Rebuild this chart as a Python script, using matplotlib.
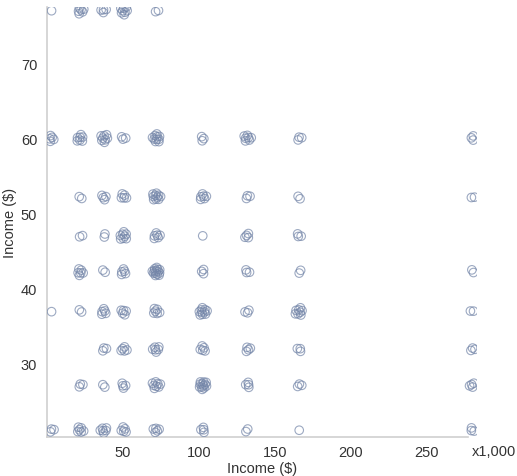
import numpy as np
import matplotlib
matplotlib.use("Agg")
import matplotlib.pyplot as plt

plt.rcParams['font.family'] = ['Liberation Sans', 'DejaVu Sans']

# Category levels (thousands of $)
x_levels = [3, 22, 37.5, 50.5, 72, 102.5, 132, 166, 280]
y_levels = [77, 60, 52.2, 47, 42.2, 36.9, 31.9, 27.1, 21.1]

# number of observations per (y row, x column)
counts = [
    [1, 6, 4, 8, 2, 0, 0, 0, 0],     # 77
    [5, 7, 8, 3, 10, 3, 7, 3, 3],    # 60
    [0, 2, 4, 5, 10, 6, 3, 2, 2],    # 52
    [0, 2, 2, 8, 6, 1, 4, 3, 0],     # 47
    [0, 6, 2, 5, 14, 3, 3, 2, 2],    # 42
    [1, 2, 5, 5, 6, 10, 3, 8, 2],    # 37
    [0, 0, 3, 5, 6, 5, 4, 3, 3],     # 32
    [0, 3, 2, 4, 8, 12, 4, 3, 4],    # 27
    [3, 6, 6, 5, 5, 4, 2, 1, 3],     # 21
]

x_ticks = [50, 100, 150, 200, 250]
y_ticks = [30, 40, 50, 60, 70]

fig = plt.figure(figsize=(5.17, 4.77), dpi=100)
ax = fig.add_axes([0.0909, 0.0818, 0.8317, 0.9015])

golden = np.pi * (3 - np.sqrt(5))
xs, ys = [], []
for i, yv in enumerate(y_levels):
    for j, xv in enumerate(x_levels):
        n = counts[i][j]
        for k in range(n):
            r = np.sqrt((k + 0.5) / max(n, 1)) * (0.5 + 0.1 * min(n, 8)) if n > 1 else 0.0
            th = k * golden + i + j
            xs.append(xv + r * np.cos(th) * 2.3)
            ys.append(yv + r * np.sin(th) * 0.46)

ax.scatter(xs, ys, s=38, facecolors='none', edgecolors='#7385a8',
           linewidths=0.8, alpha=0.7, zorder=3)

ax.set_xlim(0, 283)
ax.set_ylim(20.2, 77.5)
ax.set_xticks(x_ticks)
ax.set_yticks(y_ticks)
ax.tick_params(axis='both', length=0, labelsize=10.5, colors='#333333')
ax.tick_params(axis='x', pad=6)
ax.tick_params(axis='y', pad=7)
for s in ['top', 'right']:
    ax.spines[s].set_visible(False)
for s in ['left', 'bottom']:
    ax.spines[s].set_color('#d0d0d0')
    ax.spines[s].set_linewidth(1.2)
ax.spines['bottom'].set_bounds(0, 277)

ax.set_xlabel('Income ($)', fontsize=10.5, color='#333333', labelpad=1)
ax.set_ylabel('Income ($)', fontsize=10.5, color='#333333', labelpad=3)
fig.text(494 / 517, 1 - 452 / 477, 'x1,000', fontsize=10.5, color='#333333',
         ha='center', va='center')

fig.savefig('out.png', dpi=100)
